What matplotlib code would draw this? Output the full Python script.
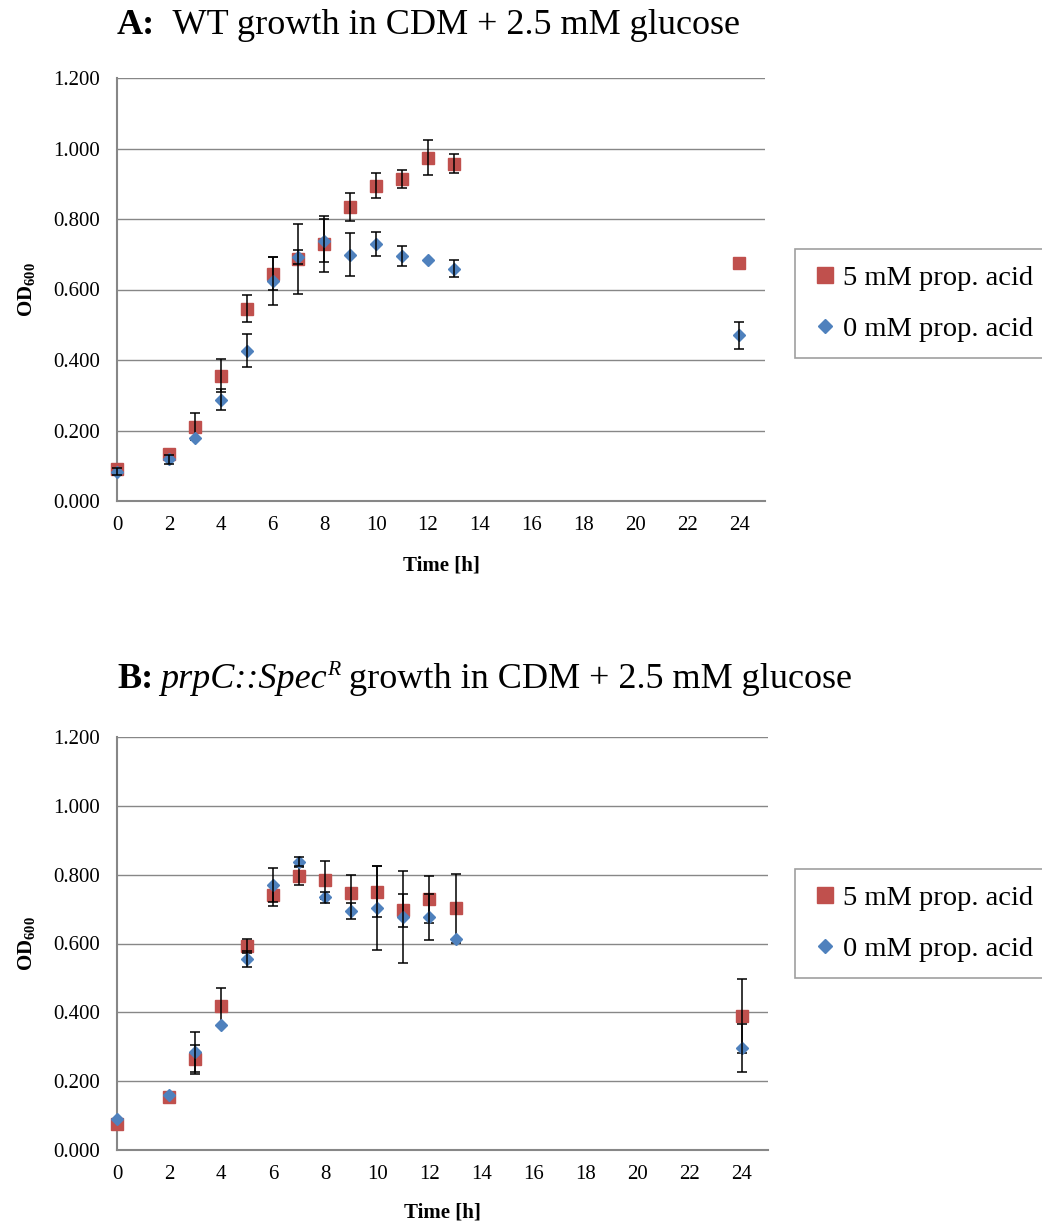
import matplotlib
matplotlib.use("Agg")
import matplotlib.pyplot as plt
from matplotlib.lines import Line2D

plt.rcParams['font.family'] = ['Liberation Serif', 'DejaVu Serif']
plt.rcParams['mathtext.fontset'] = 'custom'
plt.rcParams['mathtext.rm'] = 'Liberation Serif'
plt.rcParams['mathtext.it'] = 'Liberation Serif:italic'
plt.rcParams['mathtext.bf'] = 'Liberation Serif:bold'

# ---------------- data ----------------
time = [0, 2, 3, 4, 5, 6, 7, 8, 9, 10, 11, 12, 13, 24]
series_labels = ["5 mM prop. acid", "0 mM prop. acid"]

# Panel A: WT  (error 0 = no visible error bar)
a_5mM = [0.092, 0.133, 0.211, 0.355, 0.545, 0.645, 0.687, 0.729, 0.834, 0.895, 0.914, 0.974, 0.957, 0.675]
a_5mM_err = [0.0, 0.0, 0.038, 0.047, 0.038, 0.047, 0.100, 0.080, 0.040, 0.035, 0.025, 0.050, 0.027, 0.0]
a_0mM = [0.083, 0.118, 0.180, 0.287, 0.426, 0.623, 0.692, 0.739, 0.699, 0.729, 0.696, 0.685, 0.659, 0.470]
a_0mM_err = [0.010, 0.012, 0.0, 0.030, 0.047, 0.068, 0.020, 0.062, 0.060, 0.033, 0.028, 0.0, 0.024, 0.038]

# Panel B: prpC::SpecR
b_5mM = [0.075, 0.155, 0.263, 0.418, 0.592, 0.740, 0.797, 0.785, 0.747, 0.751, 0.696, 0.728, 0.702, 0.389]
b_5mM_err = [0.0, 0.0, 0.043, 0.054, 0.021, 0.031, 0.026, 0.056, 0.052, 0.074, 0.048, 0.068, 0.100, 0.108]
b_0mM = [0.090, 0.161, 0.285, 0.362, 0.556, 0.770, 0.838, 0.735, 0.694, 0.704, 0.677, 0.678, 0.612, 0.296]
b_0mM_err = [0.0, 0.0, 0.058, 0.0, 0.023, 0.048, 0.012, 0.016, 0.024, 0.122, 0.135, 0.067, 0.0, 0.069]

y_ticks = [0.0, 0.2, 0.4, 0.6, 0.8, 1.0, 1.2]
x_ticks = [0, 2, 4, 6, 8, 10, 12, 14, 16, 18, 20, 22, 24]

RED = "#C0504D"
BLUE = "#4F81BD"
GRID = "#878787"

W, H = 1042, 1227
fig = plt.figure(figsize=(W / 100, H / 100), dpi=100)


def draw_err(ax, xs, ys, es, z):
    sel = [(x, y, e) for x, y, e in zip(xs, ys, es) if e > 0]
    if not sel:
        return
    ax.errorbar([s[0] for s in sel], [s[1] for s in sel], yerr=[s[2] for s in sel],
                fmt='none', ecolor='black', elinewidth=1.1, capsize=3.5,
                capthick=1.1, zorder=z, clip_on=False)


def make_panel(rect_px, y5, e5, y0, e0, leg_top_px, xlabel_center_px):
    left, top, right, bottom = rect_px
    ax = fig.add_axes([left / W, 1 - bottom / H, (right - left) / W, (bottom - top) / H])
    ax.set_xlim(0, 25)
    ax.set_ylim(0, 1.2)
    ax.set_yticks(y_ticks)
    ax.set_yticklabels([f"{v:.3f}" for v in y_ticks])
    ax.set_xticks(x_ticks)
    ax.set_xticklabels([str(v) for v in x_ticks])
    ax.grid(axis='y', color=GRID, linewidth=1.0)
    ax.set_axisbelow(True)
    for s in ['top', 'right']:
        ax.spines[s].set_visible(False)
    for s in ['left', 'bottom']:
        ax.spines[s].set_color(GRID)
        ax.spines[s].set_linewidth(1.5)
    ax.tick_params(axis='both', length=0, labelsize=15)
    ax.tick_params(axis='y', pad=12)
    ax.tick_params(axis='x', pad=10.5)
    ax.plot(time, y5, linestyle='none', marker='s', ms=8.3, color=RED,
            mec=RED, clip_on=False, zorder=3)
    draw_err(ax, time, y5, e5, 3.5)
    ax.plot(time, y0, linestyle='none', marker='D', ms=5.8, color=BLUE,
            mec=BLUE, clip_on=False, zorder=4)
    draw_err(ax, time, y0, e0, 4.5)
    ax.set_xlabel("Time [h]", fontsize=15, fontweight='bold', va='center')
    ax.xaxis.set_label_coords(0.5, -(xlabel_center_px - bottom) / (bottom - top))
    ax.set_ylabel(r"$\mathbf{OD}_{\mathbf{600}}$", fontsize=15)
    ax.yaxis.set_label_coords(-0.123, 0.5)
    handles = [
        Line2D([], [], linestyle='none', marker='s', ms=12, color=RED, mec=RED),
        Line2D([], [], linestyle='none', marker='D', ms=7.6, color=BLUE, mec=BLUE),
    ]
    leg = fig.legend(handles, series_labels, loc='upper left',
                     bbox_to_anchor=(795 / W, 1 - leg_top_px / H), borderaxespad=0,
                     fontsize=20.5, frameon=True, fancybox=False, edgecolor=GRID,
                     handlelength=1.0, handletextpad=0.15, borderpad=0.55,
                     labelspacing=0.9)
    leg.get_frame().set_linewidth(1.2)
    return ax


axA = make_panel((117, 78, 765, 501), a_5mM, a_5mM_err, a_0mM, a_0mM_err, 249, 565)
axB = make_panel((117, 737, 768, 1150), b_5mM, b_5mM_err, b_0mM, b_0mM_err, 869, 1212)


def title_pieces(x_px, y_px, pieces):
    """pieces: list of (text, dict(props), dy_px)"""
    fig.canvas.draw()
    renderer = fig.canvas.get_renderer()
    x = x_px
    for txt, props, dy in pieces:
        t = fig.text(x / W, 1 - (y_px - dy) / H, txt, ha='left', va='baseline', **props)
        bb = t.get_window_extent(renderer)
        x += bb.width


TS = 26
title_pieces(117, 34, [
    ("A:", dict(fontsize=TS, fontweight='bold'), 0),
    ("  WT growth in CDM + 2.5 mM glucose", dict(fontsize=TS), 0),
])
title_pieces(117, 688, [
    ("B:", dict(fontsize=TS, fontweight='bold'), 0),
    ("  ", dict(fontsize=TS * 0.4), 0),
    ("prpC::Spec", dict(fontsize=TS, style='italic'), 0),
    ("R", dict(fontsize=TS * 0.6, style='italic'), 13),
    (" growth in CDM + 2.5 mM glucose", dict(fontsize=TS), 0),
])

fig.savefig("out.png", dpi=100)
